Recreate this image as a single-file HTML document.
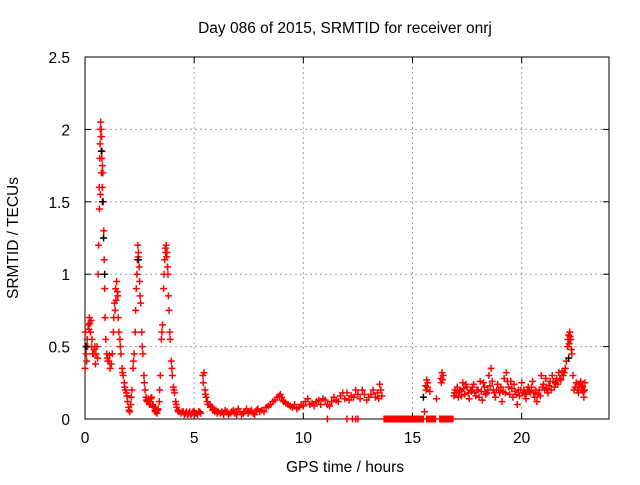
<!DOCTYPE html>
<html><head><meta charset="utf-8"><style>
body{margin:0;background:#fff}
svg text{font-family:"Liberation Sans",sans-serif;font-size:15.5px;fill:#000}
</style></head><body>
<svg id="chart" width="640" height="480" viewBox="0 0 640 480" xmlns="http://www.w3.org/2000/svg">
<rect width="640" height="480" fill="#fff"/>
<text x="345" y="33" text-anchor="middle">Day 086 of 2015, SRMTID for receiver onrj</text>
<text transform="translate(18,238) rotate(-90)" text-anchor="middle">SRMTID / TECUs</text>
<text x="345" y="472" text-anchor="middle">GPS time / hours</text>
<g id="grid"></g>
<g id="axes"></g>
<g id="marks"></g>
<g id="marks2"></g>
</svg>
<script>
const xTicks = [0,5,10,15,20];
const yTicks = [0,0.5,1,1.5,2,2.5];
const yTickLabels = ["0","0.5","1","1.5","2","2.5"];
const xMax = 24, yMax = 2.5;
const obs = [
[0.00,.35],[0.02,.6],[0.05,.45],[0.08,.4],[0.10,.55],[0.15,.65],[0.20,.70],[0.25,.60],[0.28,.68],[0.30,.50],[0.35,.45],[0.40,.45],[0.45,.50],[0.48,.38],
[0.50,.45],[0.55,.50],[0.60,1.0],[0.65,1.6],[0.66,1.45],[0.68,1.8],[0.70,2.0],[0.72,2.05],[0.74,2.0],[0.76,1.95],[0.78,1.85],[0.79,1.6],
[0.80,1.75],[0.82,1.7],[0.84,1.5],[0.86,1.3],[0.88,1.1],[0.90,.9],[0.92,.7],[0.95,.55],[1.00,.45],[1.05,.40],
[1.10,.40],[1.15,.35],[1.20,.38],[1.25,.45],[1.30,.6],[1.35,.8],[1.38,.75],[1.40,.9],[1.45,.95],[1.48,.88],[1.50,.85],[1.55,.6],
[1.60,.55],[1.65,.45],[1.70,.35],[1.75,.3],[1.80,.25],[1.85,.2],[1.90,.18],[1.95,.12],[2.00,.08],[2.05,.05],
[2.10,.1],[2.15,.2],[2.20,.35],[2.25,.45],[2.30,.6],[2.35,.9],[2.40,1.1],[2.42,1.2],[2.45,1.15],[2.48,1.05],
[2.50,.95],[2.55,.8],[2.60,.6],[2.65,.45],[2.70,.3],[2.75,.2],[2.80,.15],[2.85,.12],[2.90,.14],[2.95,.1],
[3.00,.12],[3.05,.15],[3.10,.1],[3.15,.08],[3.20,.06],[3.25,.05],[3.30,.04],[3.35,.07],[3.40,.12],[3.45,.3],
[3.50,.55],[3.55,.65],[3.60,.9],[3.65,1.1],[3.70,1.15],[3.72,1.2],[3.75,1.15],[3.80,1.0],[3.85,.75],[3.90,.55],
[3.95,.4],[4.00,.3],[4.05,.22],[4.10,.18],[4.15,.12],[4.20,.08],[4.25,.06],[4.30,.05],
[0.12,.5],[0.18,.62],[0.22,.66],[0.32,.55],[0.42,.48],[0.58,.42],[0.62,1.2],[0.69,1.9],[0.71,1.55],[0.73,1.95],[0.75,1.7],[0.77,1.8],
[1.02,.42],[1.12,.44],[1.32,.7],[1.42,.82],[1.52,.7],[1.62,.5],[1.72,.32],[1.82,.22],[1.92,.16],[2.02,.06],[2.12,.15],[2.22,.4],
[2.32,.75],[2.38,1.0],[2.44,1.12],[2.52,.85],[2.62,.5],[2.72,.25],[2.82,.13],[2.92,.12],[3.02,.14],[3.12,.09],[3.22,.05],[3.32,.06],
[3.42,.2],[3.52,.6],[3.62,1.0],[3.68,1.18],[3.74,1.12],[3.78,1.05],[3.82,.85],[3.88,.6],[3.98,.35],[4.08,.2],[4.18,.1],[4.28,.05],
[4.4,.04],[4.5,.05],[4.6,.04],[4.7,.03],[4.8,.05],[4.9,.04],[5.0,.05],[5.1,.04],[5.2,.05],[5.3,.04],
[4.45,.05],[4.55,.03],[4.65,.05],[4.75,.04],[4.85,.03],[4.95,.05],[5.05,.04],[5.15,.03],[5.25,.05],
[5.4,.3],[5.45,.32],[5.5,.2],[5.55,.15],[5.6,.12],[5.7,.1],[5.8,.08],[5.9,.07],[6.0,.06],[6.1,.05],
[5.42,.25],[5.52,.17],[5.62,.1],[5.75,.09],[5.85,.06],[5.95,.05],[6.05,.04],
[6.2,.04],[6.35,.03],[6.5,.05],[6.65,.04],[6.8,.06],[6.95,.03],[7.1,.05],[7.25,.04],[7.4,.07],[7.55,.05],[7.7,.04],[7.85,.06],[8.0,.05],
[6.27,.05],[6.42,.06],[6.57,.03],[6.72,.05],[6.87,.04],[7.02,.07],[7.17,.03],[7.32,.05],[7.47,.04],[7.62,.06],[7.77,.03],[7.92,.07],
[8.1,.06],[8.3,.08],[8.5,.1],[8.7,.13],[8.9,.16],[9.0,.15],[9.1,.12],[9.3,.1],[9.5,.08],[9.7,.07],[9.9,.1],
[8.2,.05],[8.4,.09],[8.6,.12],[8.8,.15],[8.95,.17],[9.05,.13],[9.2,.11],[9.4,.09],[9.6,.1],[9.8,.08],
[10.1,.12],[10.3,.1],[10.5,.09],[10.7,.13],[10.9,.14],[11.1,.1],[11.3,.12],[11.5,.13],[11.7,.16],[11.9,.14],
[10.0,.09],[10.2,.14],[10.4,.11],[10.6,.12],[10.8,.1],[11.0,.13],[11.2,.09],[11.4,.15],[11.6,.12],[11.8,.18],
[12.0,.18],[12.2,.16],[12.4,.2],[12.6,.14],[12.8,.17],[13.0,.15],[13.2,.2],[13.4,.18],[13.5,.24],[13.55,.2],[13.6,.16],
[12.1,.13],[12.3,.15],[12.5,.17],[12.7,.2],[12.9,.13],[13.1,.17],[13.3,.15],[13.45,.14],
[11.1,0],[12.0,0],[12.25,0],[12.4,0],[12.5,0],
[13.7,0],[13.8,0],[13.9,0],[14.0,0],[14.1,0],[14.2,0],[14.3,0],[14.4,0],[14.5,0],[14.6,0],[14.7,0],[14.8,0],[14.9,0],[15.0,0],[15.1,0],[15.2,0],[15.3,0],[15.4,0],[15.5,0],
[13.75,0],[13.85,0],[13.95,0],[14.05,0],[14.15,0],[14.25,0],[14.35,0],[14.45,0],[14.55,0],[14.65,0],[14.75,0],[14.85,0],[14.95,0],[15.05,0],[15.15,0],[15.25,0],[15.35,0],[15.45,0],
[15.65,0],[15.75,0],[15.85,0],[15.95,0],[16.05,0],[15.7,0],[15.8,0],[15.9,0],[16.0,0],
[16.25,0],[16.35,0],[16.45,0],[16.55,0],[16.65,0],[16.75,0],[16.85,0],[16.3,0],[16.4,0],[16.5,0],[16.6,0],[16.7,0],[16.8,0],
[15.55,.05],[15.6,.23],[15.65,.27],[15.7,.25],[15.8,.19],[16.1,.14],[16.3,.28],[16.35,.32],[16.4,.3],[15.62,.2],[15.68,.22],[16.32,.25],[16.38,.27],
[16.9,.16],[17.0,.18],[17.1,.15],[17.2,.2],[17.3,.25],[17.4,.17],[17.5,.22],[17.6,.14],[17.7,.19],[17.8,.24],
[17.9,.16],[18.0,.2],[18.1,.26],[18.2,.13],[18.3,.22],[18.4,.18],[18.5,.3],[18.6,.35],[18.7,.2],[18.8,.15],
[18.9,.24],[19.0,.18],[19.1,.12],[19.2,.28],[19.3,.32],[19.4,.22],[19.5,.26],[19.6,.15],[19.7,.19],[19.8,.1],
[19.9,.16],[20.0,.25],[20.1,.2],[20.2,.14],[20.3,.22],[20.4,.18],[20.5,.26],[20.6,.15],[20.7,.12],[20.8,.2],
[20.9,.3],[21.0,.24],[21.1,.28],[21.2,.18],[21.3,.26],[21.4,.3],[21.5,.22],[21.6,.28],[21.7,.32],[21.8,.27],
[21.9,.3],[22.0,.35],[22.1,.5],[22.15,.58],[22.2,.6],[22.25,.55],[22.3,.45],[22.35,.3],[22.4,.2],[22.5,.25],
[22.6,.18],[22.7,.26],[22.8,.22],[22.85,.15],[22.9,.25],
[16.95,.2],[17.05,.22],[17.25,.16],[17.45,.24],[17.65,.2],[17.85,.18],[18.05,.15],[18.25,.25],[18.45,.2],[18.65,.26],
[18.85,.2],[19.05,.22],[19.25,.18],[19.45,.17],[19.65,.24],[19.85,.2],[20.05,.18],[20.25,.2],[20.45,.22],[20.65,.2],
[20.85,.16],[21.05,.2],[21.25,.23],[21.45,.26],[21.65,.24],[21.85,.33],[22.05,.4],[22.45,.22],[22.65,.24],[22.75,.2],
[16.92,.18],[17.15,.19],[17.35,.21],[17.55,.18],[17.75,.22],[17.95,.2],[18.15,.19],[18.35,.17],[18.55,.23],[18.75,.18],
[18.95,.2],[19.15,.19],[19.35,.26],[19.55,.21],[19.75,.17],[19.95,.2],[20.15,.17],[20.35,.19],[20.55,.18],[20.75,.17],
[20.95,.22],[21.15,.21],[21.35,.2],[21.55,.25],[21.75,.28],[21.95,.32],[22.12,.55],[22.18,.52],[22.22,.57],[22.28,.48],
[22.55,.2],[22.62,.22],[22.72,.23],[22.82,.19],[22.88,.2]
];
const obs2 = [[0.75,1.85],[0.8,1.5],[0.85,1.25],[0.9,1.0],[2.45,1.1],[15.5,.15],[22.15,.42],[0.05,.5]];

const X0=85, X1=609, Y0=419, Y1=57;
function sx(v){return X0+(X1-X0)*v/xMax;}
function sy(v){return Y0-(Y0-Y1)*v/yMax;}
const NS="http://www.w3.org/2000/svg";
function mk(tag,attrs,parent){const e=document.createElementNS(NS,tag);for(const k in attrs)e.setAttribute(k,attrs[k]);parent.appendChild(e);return e;}
const grid=document.getElementById('grid'), axes=document.getElementById('axes');
xTicks.forEach(t=>{
  const x=sx(t);
  if(t>0){const g=mk('line',{x1:x,y1:Y1,x2:x,y2:Y0,stroke:'#a0a0a0','stroke-dasharray':'2,3'},grid);
  
  }
  mk('line',{x1:x,y1:Y0,x2:x,y2:Y0-6,stroke:'#000'},axes);
  mk('line',{x1:x,y1:Y1,x2:x,y2:Y1+6,stroke:'#000'},axes);
  const tx=mk('text',{x:x,y:Y0+24,'text-anchor':'middle'},axes);tx.textContent=t;
  
  
});
yTicks.forEach((t,i)=>{
  const y=sy(t);
  if(t>0&&t<yMax){const g=mk('line',{x1:X0,y1:y,x2:X1,y2:y,stroke:'#a0a0a0','stroke-dasharray':'2,3'},grid);
  
  }
  mk('line',{x1:X0,y1:y,x2:X0+6,y2:y,stroke:'#000'},axes);
  mk('line',{x1:X1,y1:y,x2:X1-6,y2:y,stroke:'#000'},axes);
  const tx=mk('text',{x:X0-15,y:y+6,'text-anchor':'end'},axes);tx.textContent=yTickLabels[i];
  
  
});
mk('rect',{x:X0,y:Y1,width:X1-X0,height:Y0-Y1,fill:'none',stroke:'#000'},axes);
function plus(data,parent,color,name){
  let d='';
  data.forEach(p=>{const x=sx(p[0]),y=sy(p[1]);d+=`M${x-3.5} ${y}h7M${x} ${y-3.5}v7`;});
  const path=mk('path',{d:d,stroke:color,'stroke-width':1.5,fill:'none'},parent);
  
  
}
plus(obs,document.getElementById('marks'),'#ff0000','srmtid-points');
plus(obs2,document.getElementById('marks2'),'#000000','secondary-points');
</script>
</body></html>
